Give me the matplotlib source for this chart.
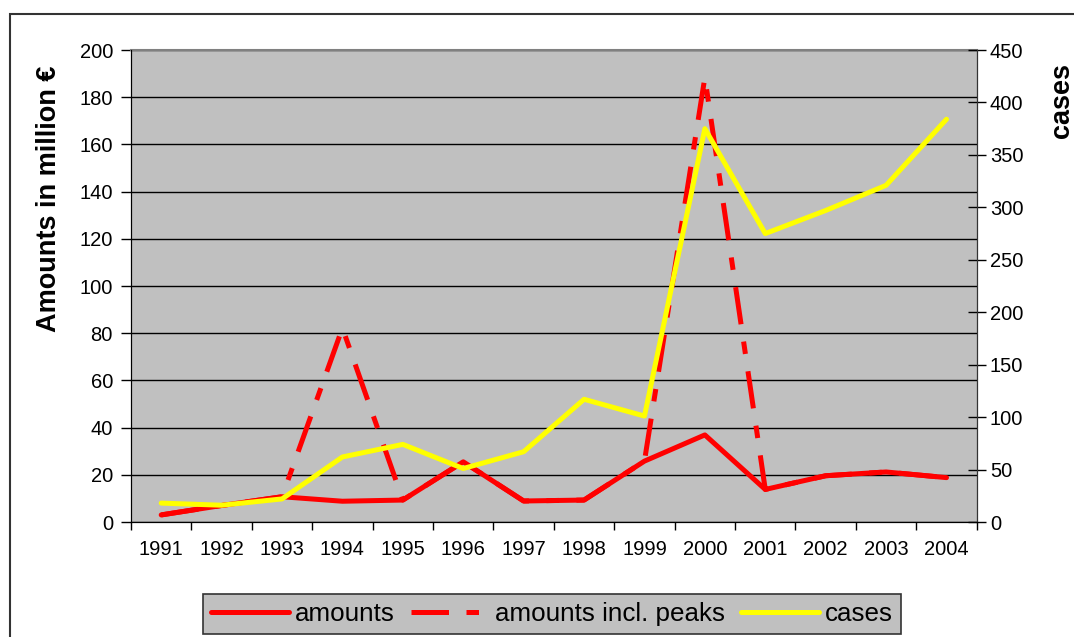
import numpy as np
import matplotlib
matplotlib.use("Agg")
import matplotlib.pyplot as plt
from matplotlib.patches import Rectangle

years = ["1991", "1992", "1993", "1994", "1995", "1996", "1997",
         "1998", "1999", "2000", "2001", "2002", "2003", "2004"]
amounts = [3, 7, 10.7, 8.8, 9.3, 25.5, 8.9, 9.3, 25.8, 36.9, 13.8, 19.6, 21.2, 18.8]
amounts_peaks = [3, 7, 10.7, 82.2, 9.3, 25.5, 8.9, 9.3, 25.8, 188.4, 13.8, 19.6, 21.2, 18.8]
cases = [18, 16, 22, 62, 74, 51, 67, 117, 101, 375, 275, 297, 321, 384]

plt.rcParams['font.family'] = ['Liberation Sans', 'DejaVu Sans']

fig = plt.figure(figsize=(10.74, 6.37), dpi=100)
W, H = 1074, 637

# outer chart border (runs off the right and bottom edges)
fig.patches.append(Rectangle((10 / W, -0.05), 1.1, 1 - 14 / H + 0.05,
                             transform=fig.transFigure, fill=False,
                             edgecolor="#333333", linewidth=1.5))

ax = fig.add_axes([131 / W, 1 - 522 / H, (976.7 - 131) / W, (522 - 50) / H])
ax.set_facecolor("#c0c0c0")
x = np.arange(len(years))

ax.plot(x, amounts, color="red", lw=3.6, solid_capstyle="round",
        solid_joinstyle="round", label="amounts", zorder=3)
ax.plot(x, amounts_peaks, color="red", lw=3.6, dashes=(7.5, 3.5, 2.5, 3.5),
        label="amounts incl. peaks", zorder=4)

ax.set_xlim(-0.5, len(years) - 0.5)
ax.set_ylim(0, 200)
ax.set_yticks(np.arange(0, 201, 20))
ax.grid(axis="y", color="black", lw=1)
ax.set_axisbelow(True)

ax.set_xticks(np.arange(-0.5, len(years), 1))
ax.set_xticklabels([])
ax.set_xticks(x, minor=True)
ax.set_xticklabels(years, minor=True)
ax.tick_params(axis="x", which="major", direction="out", length=6, width=1)
ax.tick_params(axis="x", which="minor", length=0, pad=13, labelsize=14.5)
ax.tick_params(axis="y", direction="out", length=7, width=1, pad=6, labelsize=14.5)

for s in ["left", "bottom"]:
    ax.spines[s].set_color("black")
ax.spines["top"].set_color("#808080")
ax.spines["top"].set_linewidth(1.5)

ax2 = ax.twinx()
ax2.plot(x, cases, color="yellow", lw=3.6, solid_capstyle="round",
         solid_joinstyle="round", label="cases")
ax2.set_ylim(0, 450)
ax2.set_yticks(np.arange(0, 451, 50))
ax2.tick_params(axis="y", direction="inout", length=13, width=1, pad=3, labelsize=14.5)
ax2.spines["right"].set_color("#333333")
ax2.spines["top"].set_visible(False)

fig.text(49 / W, 1 - 199 / H, "Amounts in million €", rotation=90,
         ha="center", va="center", fontsize=19.5, fontweight="bold")
fig.text(1062 / W, 1 - 100 / H, "cases", rotation=90,
         ha="center", va="center", fontsize=19.5, fontweight="bold")

h1, l1 = ax.get_legend_handles_labels()
h2, l2 = ax2.get_legend_handles_labels()
leg = fig.legend(h1 + h2, l1 + l2, loc="upper left",
                 bbox_to_anchor=(203 / W, 1 - 594 / H), ncol=3,
                 fontsize=18.7, frameon=True, fancybox=False,
                 facecolor="#c0c0c0", edgecolor="#333333", framealpha=1,
                 handlelength=3.0, handletextpad=0.25, columnspacing=0.6,
                 borderpad=0.3, borderaxespad=0)
leg.get_frame().set_linewidth(1.2)

fig.savefig("out.png", dpi=100)
